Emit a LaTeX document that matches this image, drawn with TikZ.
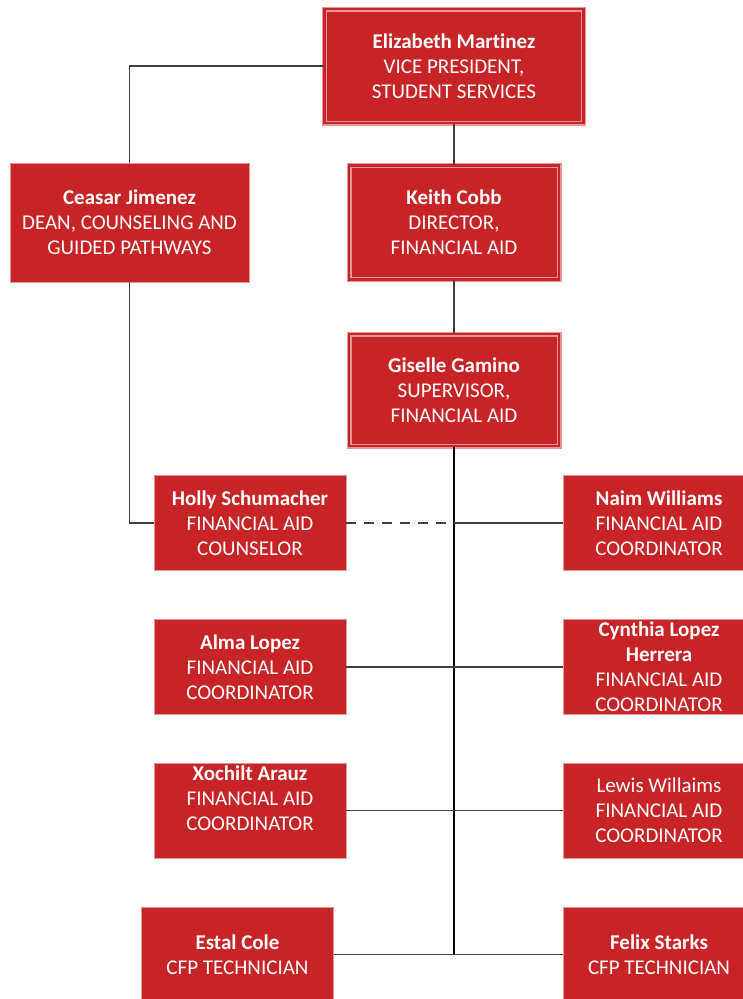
\documentclass[tikz,border=0pt]{standalone}
\usepackage{fontspec}
\setmainfont{Carlito}[Ligatures=NoCommon]
\usetikzlibrary{positioning}

\definecolor{boxred}{RGB}{200,36,40}
\definecolor{boxrim}{RGB}{232,150,150}

\tikzset{
  person/.style={fill=boxred, draw=boxrim, line width=0.8pt, text=white,
    align=center, inner sep=0pt, minimum width=192pt, minimum height=95pt,
    font=\fontsize{21}{25}\selectfont},
  head/.style={person, double=boxred, double distance=2.6pt, line width=1.2pt,
    minimum width=210pt, minimum height=114pt},
  link/.style={draw=black!75, line width=1.3pt},
  trunk/.style={draw=black, line width=2pt}
}

\begin{document}
\begin{tikzpicture}[x=1pt, y=-1pt]
\useasboundingbox (0,0) rectangle (742,999);

% top of the chart
\node[head, minimum width=259pt] (vp) at (454,66)
  {\textbf{Elizabeth Martinez}\\VICE PRESIDENT,\\STUDENT SERVICES};
\node[person, minimum width=239pt, minimum height=119pt] (dean) at (129.5,222.5)
  {\textbf{Ceasar Jimenez}\\DEAN, COUNSELING AND\\GUIDED PATHWAYS};
\node[head] (dir) at (454,222.5)
  {\textbf{Keith Cobb}\\DIRECTOR,\\FINANCIAL AID};
\node[head, minimum height=112pt] (sup) at (454,390)
  {\textbf{Giselle Gamino}\\SUPERVISOR,\\FINANCIAL AID};

% staff, left column
\node[person] (holly) at (250,523)
  {\textbf{Holly Schumacher}\\FINANCIAL AID\\COUNSELOR};
\node[person] (alma) at (250,667)
  {\textbf{Alma Lopez}\\FINANCIAL AID\\COORDINATOR};
\node[person] (xochilt) at (250,810.5)
  {\textbf{Xochilt Arauz}\\FINANCIAL AID\\COORDINATOR\\ \mbox{}};
\node[person] (estal) at (237.5,954.5)
  {\textbf{Estal Cole}\\CFP TECHNICIAN};

% staff, right column
\node[person] (naim) at (659,523)
  {\textbf{Naim Williams}\\FINANCIAL AID\\COORDINATOR};
\node[person] (cynthia) at (659,667)
  {\textbf{Cynthia Lopez}\\\textbf{Herrera}\\FINANCIAL AID\\COORDINATOR};
\node[person] (lewis) at (659,810.5)
  {Lewis Willaims\\FINANCIAL AID\\COORDINATOR};
\node[person] (felix) at (659,954.5)
  {\textbf{Felix Starks}\\CFP TECHNICIAN};

% connectors
\draw[link] (vp.west) -| (dean.north);
\draw[link] (vp.south) -- (dir.north);
\draw[link] (dir.south) -- (sup.north);
\draw[link] (dean.south) |- (holly.west);
\draw[trunk] (sup.south) -- (sup.south |- estal.east);

\draw[link, dash pattern=on 10pt off 8pt] (holly.east) -- (sup.south |- holly.east);
\draw[link] (sup.south |- naim.west) -- (naim.west);
\draw[link] (alma.east) -- (cynthia.west);
\draw[link] (xochilt.east) -- (lewis.west);
\draw[link] (estal.east) -- (felix.west);
\end{tikzpicture}
\end{document}
